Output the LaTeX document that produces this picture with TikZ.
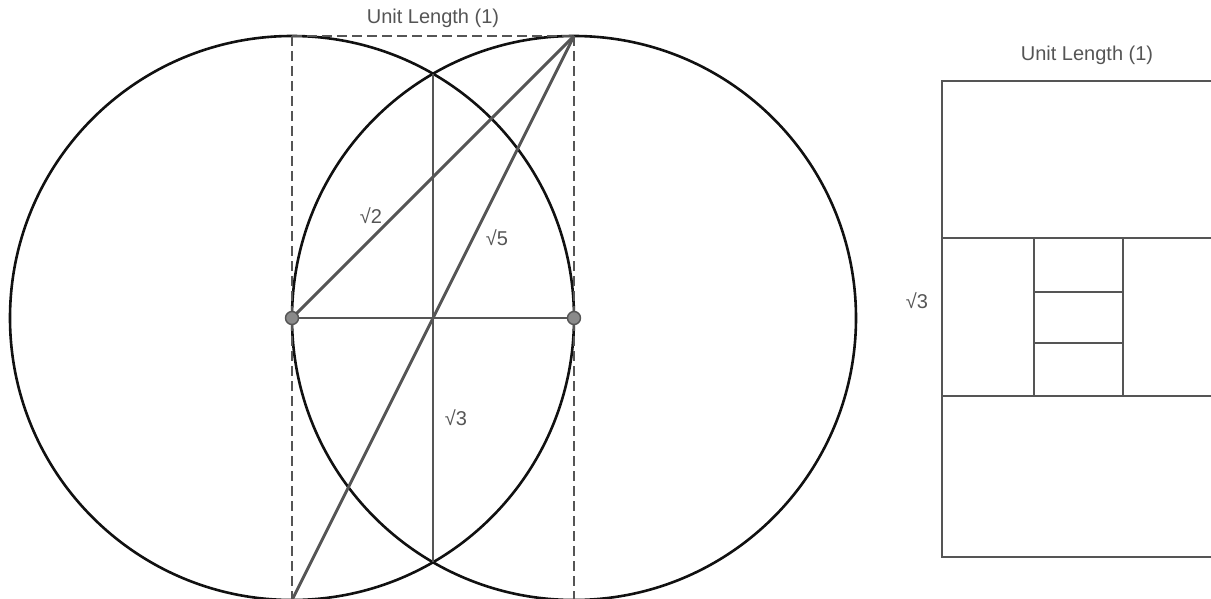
\documentclass[tikz,border=0pt]{standalone}
\usepackage{fontspec}
\setmainfont{Liberation Sans}
\definecolor{ink}{HTML}{111111}
\definecolor{gline}{HTML}{555555}
\definecolor{gtext}{HTML}{555555}
\definecolor{dotfill}{HTML}{8A8A8A}
\tikzset{
  circ/.style={draw=ink, line width=2.6pt},
  gl/.style={draw=gline, line width=2.9pt},
  dl/.style={draw=gline, line width=1.8pt, dash pattern=on 10pt off 5pt},
  lbl/.style={text=gtext, font=\fontsize{20}{22}\selectfont, inner sep=0pt},
  dotn/.style={circle, fill=dotfill, draw=gline, line width=1.4pt, minimum size=13pt, inner sep=0pt}
}
\begin{document}
\begin{tikzpicture}[x=1pt,y=-1pt]
\useasboundingbox (0,0) rectangle (1211,599);
\clip (0,0) rectangle (1211,599);
% key points
\coordinate (A) at (292,318);
\coordinate (B) at (574,318);
\coordinate (M) at (433,318);
\coordinate (TL) at (292,36);
\coordinate (TR) at (574,36);
\coordinate (BL) at (292,600);
\coordinate (BR) at (574,600);
\coordinate (IT) at (433,74);
\coordinate (IB) at (433,562);
% circles
\draw[circ] (A) circle (282);
\draw[circ] (B) circle (282);
% dashed frame
\draw[dl] (TL) -- (TR);
\draw[dl] (TL) -- (BL);
\draw[dl] (TR) -- (BR);
% inner lines
\draw[gl] (A) -- (B);
\draw[gl] (IT) -- (IB);
\draw[gl] (A) -- (TR);
\draw[gl] (BL) -- (TR);
% dots
\node[dotn] (dA) at (A) {};
\node[dotn] (dB) at (B) {};
% labels
\node[lbl] (uL) at (433,18) {Unit Length (1)};
\node[lbl] (s2) at (371,216) {√2};
\node[lbl] (s5) at (497,238) {√5};
\node[lbl] (s3) at (456,418) {√3};
% right rectangle
\coordinate (R1) at (942,81);
\coordinate (R2) at (1230,557);
\draw[gl] (R1) rectangle (R2);
\coordinate (h1a) at (942,238); \coordinate (h1b) at (1230,238);
\coordinate (h2a) at (942,396); \coordinate (h2b) at (1230,396);
\draw[gl] (h1a) -- (h1b);
\draw[gl] (h2a) -- (h2b);
\coordinate (v1a) at (1034,238); \coordinate (v1b) at (1034,396);
\coordinate (v2a) at (1123,238); \coordinate (v2b) at (1123,396);
\draw[gl] (v1a) -- (v1b);
\draw[gl] (v2a) -- (v2b);
\coordinate (m1a) at (1034,292); \coordinate (m1b) at (1123,292);
\coordinate (m2a) at (1034,343); \coordinate (m2b) at (1123,343);
\draw[gl] (m1a) -- (m1b);
\draw[gl] (m2a) -- (m2b);
\node[lbl] (uR) at (1087,55) {Unit Length (1)};
\node[lbl] (r3) at (917,301) {√3};
\end{tikzpicture}
\end{document}
